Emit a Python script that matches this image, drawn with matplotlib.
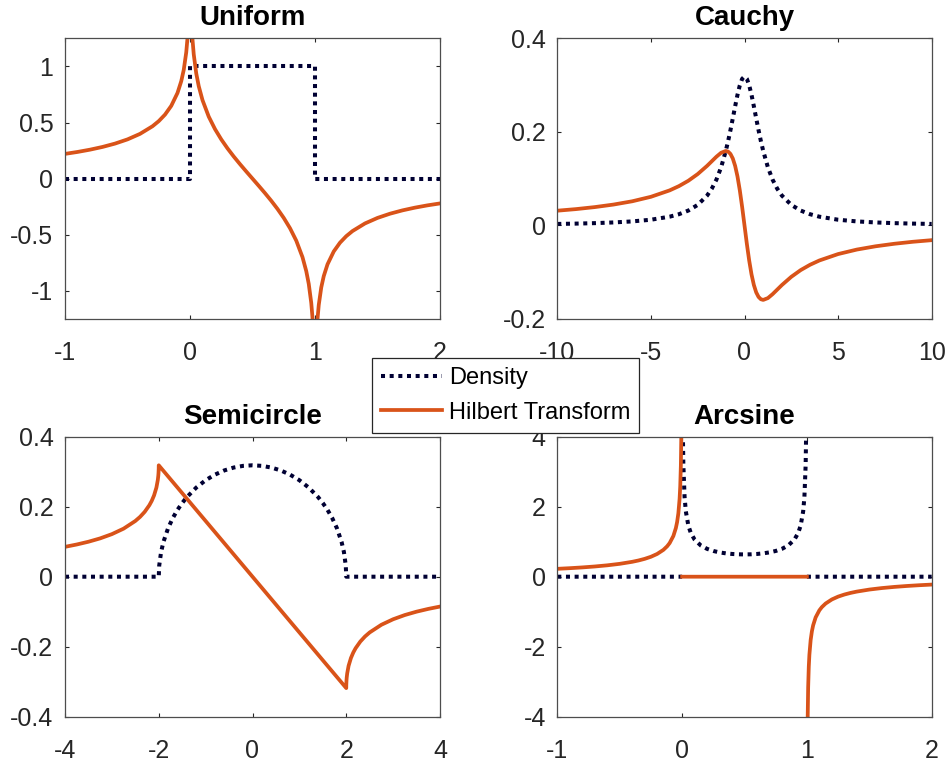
import numpy as np
import matplotlib
matplotlib.use("Agg")
import matplotlib.pyplot as plt
from matplotlib.ticker import FuncFormatter

plt.rcParams['font.family'] = ['Liberation Sans', 'DejaVu Sans']
plt.rcParams['axes.unicode_minus'] = False

nan = np.nan
dens_color = '#000033'
hil_color = '#D95319'
labels = ["Density", "Hilbert Transform"]
titles = ["Uniform", "Cauchy", "Semicircle", "Arcsine"]

# Uniform on [0,1]
uni_dens_x = [-1, 0, 0, 1, 1, 2]
uni_dens_y = [0, 0, 1, 1, 0, 0]
uni_hil_x = [-1, -0.9, -0.8, -0.7, -0.6, -0.5, -0.4, -0.3, -0.25, -0.2, -0.15, -0.1, -0.07, -0.05, -0.03, -0.02, -0.01,
             0.01, 0.02, 0.03, 0.05, 0.07, 0.1, 0.15, 0.2, 0.25, 0.3, 0.35, 0.4, 0.45, 0.5, 0.55, 0.6, 0.65, 0.7, 0.75,
             0.8, 0.85, 0.9, 0.93, 0.95, 0.97, 0.98, 0.99,
             1.01, 1.02, 1.03, 1.05, 1.07, 1.1, 1.15, 1.2, 1.25, 1.3, 1.4, 1.5, 1.6, 1.7, 1.8, 1.9, 2]
uni_hil_y = [0.2206, 0.2378, 0.2581, 0.2824, 0.3122, 0.3497, 0.3988, 0.4667, 0.5123, 0.5703, 0.6484, 0.7633, 0.8680,
             0.9691, 1.1256, 1.2516, 1.4690,
             1.4627, 1.2388, 1.1065, 0.9372, 0.8234, 0.6994, 0.5521, 0.4413, 0.3497, 0.2697, 0.1970, 0.1291, 0.0639, 0,
             -0.0639, -0.1291, -0.1970, -0.2697, -0.3497, -0.4413, -0.5521, -0.6994, -0.8234, -0.9372, -1.1065,
             -1.2388, -1.4627,
             -1.4690, -1.2516, -1.1256, -0.9691, -0.8680, -0.7633, -0.6484, -0.5703, -0.5123, -0.4667, -0.3988,
             -0.3497, -0.3122, -0.2824, -0.2581, -0.2378, -0.2206]

# Cauchy
cau_x = [-10, -9, -8, -7, -6, -5, -4, -3.5, -3, -2.5, -2, -1.75, -1.5, -1.25, -1, -0.875, -0.75, -0.625, -0.5, -0.375,
         -0.25, -0.125, 0, 0.125, 0.25, 0.375, 0.5, 0.625, 0.75, 0.875, 1, 1.25, 1.5, 1.75, 2, 2.5, 3, 3.5, 4, 5, 6, 7,
         8, 9, 10]
cau_dens = [0.0032, 0.0039, 0.0049, 0.0064, 0.0086, 0.0122, 0.0187, 0.0240, 0.0318, 0.0439, 0.0637, 0.0784, 0.0979,
            0.1242, 0.1592, 0.1803, 0.2037, 0.2289, 0.2546, 0.2791, 0.2996, 0.3134, 0.3183, 0.3134, 0.2996, 0.2791,
            0.2546, 0.2289, 0.2037, 0.1803, 0.1592, 0.1242, 0.0979, 0.0784, 0.0637, 0.0439, 0.0318, 0.0240, 0.0187,
            0.0122, 0.0086, 0.0064, 0.0049, 0.0039, 0.0032]
cau_hil = [0.0315, 0.0349, 0.0392, 0.0446, 0.0516, 0.0612, 0.0749, 0.0841, 0.0955, 0.1098, 0.1273, 0.1371, 0.1469,
           0.1553, 0.1592, 0.1578, 0.1528, 0.1431, 0.1273, 0.1047, 0.0749, 0.0392, 0, -0.0392, -0.0749, -0.1047,
           -0.1273, -0.1431, -0.1528, -0.1578, -0.1592, -0.1553, -0.1469, -0.1371, -0.1273, -0.1098, -0.0955, -0.0841,
           -0.0749, -0.0612, -0.0516, -0.0446, -0.0392, -0.0349, -0.0315]

# Semicircle on [-2,2]
semi_dens_x = [-4, -2, -1.99, -1.95, -1.9, -1.8, -1.7, -1.6, -1.5, -1.4, -1.2, -1, -0.8, -0.6, -0.4, -0.2, 0, 0.2, 0.4,
               0.6, 0.8, 1, 1.2, 1.4, 1.5, 1.6, 1.7, 1.8, 1.9, 1.95, 1.99, 2, 4]
semi_dens_y = [0, 0, 0.0318, 0.0707, 0.0994, 0.1388, 0.1677, 0.1910, 0.2105, 0.2273, 0.2546, 0.2757, 0.2917, 0.3037,
               0.3119, 0.3167, 0.3183, 0.3167, 0.3119, 0.3037, 0.2917, 0.2757, 0.2546, 0.2273, 0.2105, 0.1910, 0.1677,
               0.1388, 0.0994, 0.0707, 0.0318, 0, 0]
semi_hil_x = [-4, -3.75, -3.5, -3.25, -3, -2.75, -2.5, -2.4, -2.3, -2.2, -2.15, -2.1, -2.05, -2.02, -2.01, -2.005,
              -2.001, -2, -1, 0, 1, 2, 2.001, 2.005, 2.01, 2.02, 2.05, 2.1, 2.15, 2.2, 2.3, 2.4, 2.5, 2.75, 3, 3.25,
              3.5, 3.75, 4]
semi_hil_y = [0.0853, 0.0920, 0.0999, 0.1095, 0.1216, 0.1373, 0.1592, 0.1708, 0.1853, 0.2043, 0.2166, 0.2323, 0.2546,
              0.2764, 0.2880, 0.2966, 0.3084, 0.3183, 0.1592, 0, -0.1592, -0.3183, -0.3084, -0.2966, -0.2880, -0.2764,
              -0.2546, -0.2323, -0.2166, -0.2043, -0.1853, -0.1708, -0.1592, -0.1373, -0.1216, -0.1095, -0.0999,
              -0.0920, -0.0853]

# Arcsine on [0,1]
arc_dens_x = [-1, 0, nan,
              0.003, 0.006, 0.01, 0.02, 0.03, 0.05, 0.07, 0.1, 0.15, 0.2, 0.25, 0.3, 0.35, 0.4, 0.45, 0.5, 0.55, 0.6,
              0.65, 0.7, 0.75, 0.8, 0.85, 0.9, 0.93, 0.95, 0.97, 0.98, 0.99, 0.994, 0.997, nan,
              1, 2]
arc_dens_y = [0, 0, nan,
              5.8203, 4.1217, 3.1991, 2.2736, 1.8660, 1.4605, 1.2475, 1.0610, 0.8914, 0.7958, 0.7351, 0.6946, 0.6674,
              0.6497, 0.6398, 0.6366, 0.6398, 0.6497, 0.6674, 0.6946, 0.7351, 0.7958, 0.8914, 1.0610, 1.2475, 1.4605,
              1.8660, 2.2736, 3.1991, 4.1217, 5.8203, nan,
              0, 0]
arc_hil_x = [-1, -0.9, -0.8, -0.7, -0.6, -0.5, -0.4, -0.35, -0.3, -0.25, -0.2, -0.15, -0.12, -0.1, -0.07, -0.05, -0.04,
             -0.03, -0.02, -0.015, -0.01, -0.006, -0.003, nan,
             0, 1, nan,
             1.003, 1.006, 1.01, 1.015, 1.02, 1.03, 1.04, 1.05, 1.07, 1.1, 1.12, 1.15, 1.2, 1.25, 1.3, 1.35, 1.4, 1.5,
             1.6, 1.7, 1.8, 1.9, 2]
arc_hil_y = [0.2251, 0.2434, 0.2653, 0.2918, 0.3249, 0.3676, 0.4254, 0.4631, 0.5097, 0.5694, 0.6498, 0.7664, 0.8683,
             0.9598, 1.1631, 1.3892, 1.5606, 1.8109, 2.2286, 2.5797, 3.1673, 4.0972, 5.8029, nan,
             0, 0, nan,
             -5.8029, -4.0972, -3.1673, -2.5797, -2.2286, -1.8109, -1.5606, -1.3892, -1.1631, -0.9598, -0.8683,
             -0.7664, -0.6498, -0.5694, -0.5097, -0.4631, -0.4254, -0.3676, -0.3249, -0.2918, -0.2653, -0.2434,
             -0.2251]

W, H = 948, 764
boxes = [(65, 38.3, 440, 319), (557.3, 38.3, 931.7, 319),
         (65, 436.7, 440, 716.7), (557.3, 436.7, 931.7, 716.7)]


def make_ax(fig, box, title, xlim, ylim, xticks, yticks):
    x0, y0, x1, y1 = box
    ax = fig.add_axes([x0 / W, 1 - y1 / H, (x1 - x0) / W, (y1 - y0) / H])
    ax.set_xlim(xlim)
    ax.set_ylim(ylim)
    ax.set_xticks(xticks)
    ax.set_yticks(yticks)
    fmt = FuncFormatter(lambda v, _: f"{v:g}")
    ax.xaxis.set_major_formatter(fmt)
    ax.yaxis.set_major_formatter(fmt)
    ax.tick_params(direction='in', length=3, width=0.8, top=True, right=True,
                   labelsize=18, colors='#262626')
    ax.tick_params(axis='x', pad=16)
    ax.tick_params(axis='y', pad=8.3)
    for s in ax.spines.values():
        s.set_color('#4d4d4d')
        s.set_linewidth(0.9)
    ax.set_title(title, fontsize=20, fontweight='bold', pad=9.5)
    return ax


def draw(ax, dx, dy, hx, hy):
    d, = ax.plot(dx, dy, color=dens_color, lw=2.9, linestyle=(0, (1, 1.15)), dash_capstyle='butt')
    h, = ax.plot(hx, hy, color=hil_color, lw=2.7)
    return d, h


fig = plt.figure(figsize=(W / 100, H / 100), dpi=100)

ax = make_ax(fig, boxes[0], titles[0], (-1, 2), (-1.25, 1.25), [-1, 0, 1, 2], [-1, -0.5, 0, 0.5, 1])
handles = draw(ax, uni_dens_x, uni_dens_y, uni_hil_x, uni_hil_y)

ax = make_ax(fig, boxes[1], titles[1], (-10, 10), (-0.2, 0.4), [-10, -5, 0, 5, 10], [-0.2, 0, 0.2, 0.4])
draw(ax, cau_x, cau_dens, cau_x, cau_hil)

ax = make_ax(fig, boxes[2], titles[2], (-4, 4), (-0.4, 0.4), [-4, -2, 0, 2, 4], [-0.4, -0.2, 0, 0.2, 0.4])
draw(ax, semi_dens_x, semi_dens_y, semi_hil_x, semi_hil_y)

ax = make_ax(fig, boxes[3], titles[3], (-1, 2), (-4, 4), [-1, 0, 1, 2], [-4, -2, 0, 2, 4])
draw(ax, arc_dens_x, arc_dens_y, arc_hil_x, arc_hil_y)

leg = fig.legend(handles, labels, loc='center', bbox_to_anchor=(505.5 / W, 1 - 395.6 / H),
                 fontsize=17, frameon=True, fancybox=False, edgecolor='#262626', framealpha=1,
                 borderpad=0.38, handlelength=2.6, handletextpad=0.3, labelspacing=0.52, borderaxespad=0)
leg.get_frame().set_linewidth(0.9)

fig.savefig("out.png", dpi=100)
